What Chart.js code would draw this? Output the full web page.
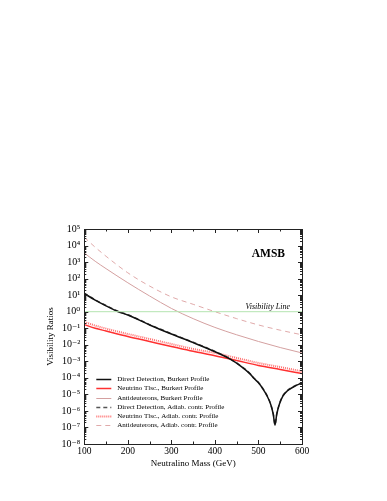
<!DOCTYPE html>
<html lang="en">
<head>
  <meta charset="utf-8" />
  <title>AMSB visibility ratios</title>
  <script src="https://cdn.jsdelivr.net/npm/chart.js"></script>
  <style>
    html, body { margin: 0; padding: 0; background: #fff; }
    canvas { display: block; }
  </style>
</head>
<body>
  <canvas id="chart" width="387" height="501"></canvas>

  <script>
    // masses (GeV)
    const mass = [100, 125, 150, 200, 250, 300, 350, 400, 450, 500, 550, 600];
    const massDD = [100, 125, 150, 178, 200, 250, 300, 350, 400, 437, 460, 480, 490, 500, 510, 520, 528, 534, 538, 542, 548, 556, 566, 580, 600];

    // visibility ratios
    const ddBurkert = [12.6, 5.0, 2.24, 1.0, 0.63, 0.158, 0.0447, 0.0135, 3.8e-3, 1.26e-3, 5.0e-4, 1.8e-4, 9.0e-5, 5.0e-5, 2.2e-5, 7.9e-6, 2.5e-6, 6.3e-7, 1.4e-7, 6.3e-7, 2.5e-6, 7.9e-6, 1.6e-5, 2.8e-5, 5.0e-5];
    const ddAdiab   = [13.2, 5.2, 2.35, 1.05, 0.66, 0.166, 0.047, 0.0142, 4.0e-3, 1.32e-3, 5.2e-4, 1.9e-4, 9.4e-5, 5.2e-5, 2.3e-5, 8.3e-6, 2.6e-6, 6.6e-7, 1.5e-7, 6.6e-7, 2.6e-6, 8.3e-6, 1.7e-5, 2.9e-5, 5.2e-5];
    const nuBurkert = [0.166, 0.1, 0.068, 0.0316, 0.0158, 7.9e-3, 4.0e-3, 2.2e-3, 1.12e-3, 5.6e-4, 3.2e-4, 1.8e-4];
    const nuAdiab   = [0.24, 0.145, 0.095, 0.045, 0.0224, 0.0112, 5.6e-3, 3.2e-3, 1.6e-3, 7.9e-4, 4.5e-4, 2.5e-4];
    const dbarBurkert = [3550, 1120, 400, 56, 8.9, 1.58, 0.38, 0.112, 0.04, 0.0158, 6.8e-3, 3.2e-3];
    const dbarAdiab   = [31600, 7900, 2240, 224, 35.5, 7.9, 2.8, 1.0, 0.38, 0.158, 0.076, 0.04];

    const visMass = [100, 600];
    const visLevel = [1, 1];

    const xTicks = [100, 200, 300, 400, 500, 600];
    const yExponents = [-8, -7, -6, -5, -4, -3, -2, -1, 0, 1, 2, 3, 4, 5];

    const sup = { '-': '\u207B', '0': '\u2070', '1': '\u00B9', '2': '\u00B2', '3': '\u00B3', '4': '\u2074', '5': '\u2075', '6': '\u2076', '7': '\u2077', '8': '\u2078', '9': '\u2079' };
    const powLabel = e => '10' + String(e).split('').map(c => sup[c]).join('');

    const pts = (xs, ys) => xs.map((x, i) => ({ x: x, y: ys[i] }));
    const SERIF = "'Liberation Serif', 'DejaVu Serif', serif";

    function line(label, xs, ys, color, width, dash) {
      return {
        label: label,
        data: pts(xs, ys),
        borderColor: color,
        backgroundColor: color,
        borderWidth: width,
        borderDash: dash || [],
        pointRadius: 0,
        fill: false,
        cubicInterpolationMode: 'monotone'
      };
    }

    const datasets = [
      Object.assign(line('Visibility Line', visMass, visLevel, '#b4e4b0', 1), { noLegend: true }),
      line('Direct Detection, Burkert Profile', massDD, ddBurkert, '#111111', 1.5),
      line('Neutrino Tlsc., Burkert Profile', mass, nuBurkert, '#ff3030', 1.5),
      line('Antideuterons, Burkert Profile', mass, dbarBurkert, '#d4a0a0', 1),
      line('Direct Detection, Adiab. contr. Profile', massDD, ddAdiab, '#555555', 1.5, [4, 3]),
      line('Neutrino Tlsc., Adiab. contr. Profile', mass, nuAdiab, '#ff7070', 2, [1, 1]),
      line('Antideuterons, Adiab. contr. Profile', mass, dbarAdiab, '#e0aaaa', 1, [5, 4])
    ];

    // frame, inward ticks, labels inside the plot, legend
    const decor = {
      id: 'decor',
      afterDatasetsDraw(chart) {
        const ctx = chart.ctx;
        const a = chart.chartArea;
        const xs = chart.scales.x;
        const ys = chart.scales.y;
        ctx.save();
        ctx.strokeStyle = '#222';
        ctx.lineWidth = 1;
        ctx.strokeRect(Math.round(a.left) + 0.5, Math.round(a.top) + 0.5, Math.round(a.right - a.left), Math.round(a.bottom - a.top));

        ctx.beginPath();
        for (let v = 100; v <= 600; v += 50) {
          const px = Math.round(xs.getPixelForValue(v)) + 0.5;
          const len = v % 100 === 0 ? 4 : 2.5;
          ctx.moveTo(px, a.bottom); ctx.lineTo(px, a.bottom - len);
          ctx.moveTo(px, a.top); ctx.lineTo(px, a.top + len);
        }
        yExponents.forEach(e => {
          const py = Math.round(ys.getPixelForValue(Math.pow(10, e))) + 0.5;
          ctx.moveTo(a.left, py); ctx.lineTo(a.left + 4, py);
          ctx.moveTo(a.right, py); ctx.lineTo(a.right - 4, py);
          if (e < 5) {
            for (let m = 2; m <= 9; m++) {
              const pm = Math.round(ys.getPixelForValue(m * Math.pow(10, e))) + 0.5;
              ctx.moveTo(a.left, pm); ctx.lineTo(a.left + 2, pm);
              ctx.moveTo(a.right, pm); ctx.lineTo(a.right - 2, pm);
            }
          }
        });
        ctx.stroke();

        ctx.fillStyle = '#000';
        ctx.font = 'bold 11.5px ' + SERIF;
        ctx.textAlign = 'right';
        ctx.textBaseline = 'middle';
        ctx.fillText('AMSB', a.right - 17, a.top + 25);

        ctx.font = 'italic 8px ' + SERIF;
        ctx.fillText('Visibility Line', a.right - 12, ys.getPixelForValue(1) - 5);

        // legend, lower left
        ctx.font = '7px ' + SERIF;
        ctx.textAlign = 'left';
        const items = chart.data.datasets.filter(d => !d.noLegend);
        const x0 = a.left + 12, x1 = a.left + 27, tx = a.left + 33;
        items.forEach((d, i) => {
          const y = Math.round(a.bottom - 64.7 + i * 9.1) + 0.5;
          ctx.strokeStyle = d.borderColor;
          ctx.lineWidth = d.borderWidth;
          ctx.setLineDash(d.borderDash);
          ctx.beginPath();
          ctx.moveTo(x0, y); ctx.lineTo(x1, y);
          ctx.stroke();
          ctx.setLineDash([]);
          ctx.fillStyle = '#000';
          ctx.fillText(d.label, tx, y);
        });
        ctx.restore();
      }
    };

    new Chart(document.getElementById('chart'), {
      type: 'line',
      data: { datasets: datasets },
      options: {
        responsive: false,
        animation: false,
        devicePixelRatio: 1,
        layout: { padding: { left: 41, right: 85, top: 229, bottom: 32 } },
        plugins: { legend: { display: false }, tooltip: { enabled: false } },
        scales: {
          x: {
            type: 'linear',
            min: 100,
            max: 600,
            afterBuildTicks: s => { s.ticks = xTicks.map(v => ({ value: v })); },
            afterFit: s => { s.height = 25; },
            grid: { display: false, drawTicks: false },
            border: { display: false },
            ticks: { color: '#000', font: { family: SERIF, size: 9.5 }, padding: 2, autoSkip: false, maxRotation: 0 },
            title: { display: true, text: 'Neutralino Mass (GeV)', color: '#000', font: { family: SERIF, size: 9 }, padding: { top: 2, bottom: 0 } }
          },
          y: {
            type: 'logarithmic',
            min: 1e-8,
            max: 1e5,
            afterBuildTicks: s => { s.ticks = yExponents.map(e => ({ value: Math.pow(10, e), major: true })); },
            afterFit: s => { s.width = 43.3; },
            grid: { display: false, drawTicks: false },
            border: { display: false },
            ticks: {
              color: '#000',
              font: { family: SERIF, size: 10 },
              padding: 4,
              autoSkip: false,
              callback: v => powLabel(Math.round(Math.log10(v)))
            },
            title: { display: true, text: 'Visibility Ratios', color: '#000', font: { family: SERIF, size: 9 }, padding: { top: 4, bottom: 2 } }
          }
        }
      },
      plugins: [decor]
    });
  </script>
</body>
</html>
